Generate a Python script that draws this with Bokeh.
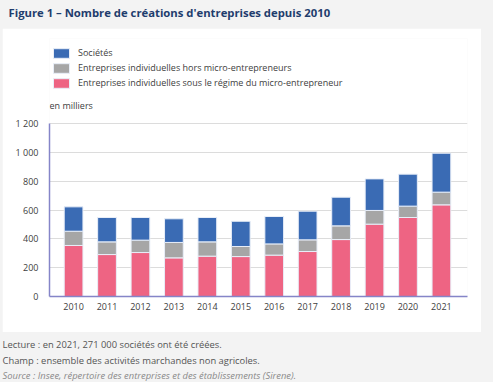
from bokeh.plotting import figure
from bokeh.layouts import column
from bokeh.models import (Range1d, FixedTicker, Label, Legend,
                          LegendItem, ColumnDataSource)
from bokeh.embed import file_html
from bokeh.resources import INLINE

# ---- data (thousands) ----
years = [2010, 2011, 2012, 2013, 2014, 2015, 2016, 2017, 2018, 2019, 2020, 2021]
micro = [354, 291, 305, 268, 280, 277, 287, 312, 395, 502, 548, 636]
ei_hors = [99, 88, 86, 107, 99, 70, 78, 81, 95, 95, 79, 88]
societes = [169, 169, 157, 164, 169, 175, 190, 199, 199, 219, 222, 270]

series_labels = ["Entreprises individuelles sous le régime du micro-entrepreneur",
                 "Entreprises individuelles hors micro-entrepreneurs",
                 "Sociétés"]
y_ticks = [0, 200, 400, 600, 800, 1000, 1200]
y_tick_labels = ["0", "200", "400", "600", "800", "1 000", "1 200"]

title_text = "Figure 1 – Nombre de créations d'entreprises depuis 2010"
unit_text = "en milliers"
notes = ["Lecture : en 2021, 271 000 sociétés ont été créées.",
         "Champ : ensemble des activités marchandes non agricoles."]
source_text = "Source : Insee, répertoire des entreprises et des établissements (Sirene)."

PINK = "#ee6483"
GREY = "#a6a6a6"
BLUE = "#3a6bb4"
AXIS = "#8585c8"
BG = "#f3f3f3"
FONT = "Open Sans"
W = 493


def text_fig(h):
    f = figure(width=W, height=h, output_backend="svg", toolbar_location=None,
               x_range=Range1d(0, 1), y_range=Range1d(0, 1),
               min_border=0, x_axis_location=None, y_axis_location=None,
               title_location=None, frame_align=False)
    f.grid.visible = False
    f.outline_line_color = None
    f.background_fill_color = BG
    f.border_fill_color = BG
    return f


# ---- title strip ----
top = text_fig(28)
top.add_layout(Label(x=8, y=16, x_units="screen", y_units="screen", text=title_text,
                     text_font=FONT, text_font_size="11.3px", text_font_style="bold",
                     text_color="#1f3d6d", text_baseline="middle"))

# ---- main chart ----
src = ColumnDataSource(dict(year=years, micro=micro, ei=ei_hors, soc=societes))

p = figure(width=479, height=304, output_backend="svg", toolbar_location=None,
           x_range=Range1d(2009.28, 2021.78), y_range=Range1d(0, 1790),
           min_border_left=47, min_border_right=14, min_border_top=10,
           min_border_bottom=36, title_location=None, frame_align=False,
           margin=(0, 12, 0, 2))
p.border_fill_color = "white"
p.background_fill_color = "white"
p.outline_line_color = None

rs = p.vbar_stack(["micro", "ei", "soc"], x="year", width=0.56, source=src,
                  fill_color=[PINK, GREY, BLUE], line_color="#e8eef8",
                  line_width=1)

p.yaxis.ticker = FixedTicker(ticks=y_ticks)
p.yaxis.major_label_overrides = {t: l for t, l in zip(y_ticks, y_tick_labels)}
p.yaxis.bounds = (0, 1200)
p.xaxis.ticker = FixedTicker(ticks=years)
for ax in (p.xaxis, p.yaxis):
    ax.axis_line_color = AXIS
    ax.axis_line_width = 1.5
    ax.major_tick_line_color = None
    ax.minor_tick_line_color = None
    ax.major_label_text_font = FONT
    ax.major_label_text_font_size = "9px"
    ax.major_label_text_color = "#404040"
p.yaxis.major_label_standoff = 5
p.xaxis.major_label_standoff = 0

p.xgrid.visible = False
p.ygrid.ticker = FixedTicker(ticks=y_ticks)
p.ygrid.grid_line_color = "#dcdcdc"
p.ygrid.grid_line_width = 1.2

legend = Legend(items=[LegendItem(label=series_labels[2], renderers=[rs[2]]),
                       LegendItem(label=series_labels[1], renderers=[rs[1]]),
                       LegendItem(label=series_labels[0], renderers=[rs[0]])],
                location=(2, 207), orientation="vertical",
                glyph_width=20, glyph_height=12, label_height=12, spacing=2,
                padding=0, margin=0, label_standoff=7,
                label_text_font=FONT, label_text_font_size="9px",
                label_text_color="#404040",
                border_line_color=None, background_fill_alpha=0)
p.add_layout(legend)

p.add_layout(Label(x=0, y=191, x_units="screen", y_units="screen", text=unit_text,
                   text_font=FONT, text_font_size="9px", text_color="#404040",
                   text_baseline="middle"))

# ---- notes strip ----
bot = text_fig(50)
for i, t in enumerate(notes):
    bot.add_layout(Label(x=2, y=38 - 15.5 * i, x_units="screen", y_units="screen",
                         text=t, text_font=FONT, text_font_size="9.4px",
                         text_color="#555555", text_baseline="middle"))
bot.add_layout(Label(x=2, y=7, x_units="screen", y_units="screen", text=source_text,
                     text_font=FONT, text_font_size="9.4px", text_font_style="italic",
                     text_color="#8a8a8a", text_baseline="middle"))

layout = column(top, p, bot, spacing=0, styles={"background-color": BG})
open("out.html", "w").write(file_html(layout, INLINE))
